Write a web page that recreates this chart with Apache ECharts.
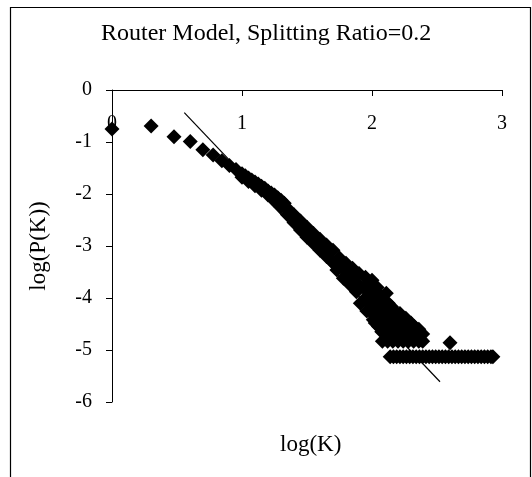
<!DOCTYPE html>
<html>
<head>
<meta charset="utf-8">
<script src="https://cdn.jsdelivr.net/npm/echarts@6/dist/echarts.min.js"></script>
<style>
  html, body { margin: 0; padding: 0; background: #fff; }
  #main-chart { width: 532px; height: 477px; }
</style>
</head>
<body>
<div id="main-chart"></div>
<script>
// tick positions of both axes
const xTicks = [0, 1, 2, 3];
const yTicks = [-6, -5, -4, -3, -2, -1, 0];

// first degrees, each marker on its own
const headLogK = [0, 0.301, 0.477, 0.602, 0.699, 0.778, 0.845, 0.903, 0.954, 1.0];
const headLogP = [-0.75, -0.69, -0.90, -0.99, -1.15, -1.25, -1.36, -1.45, -1.53, -1.61];

// the narrow part of the band
const bandLogK = [1.025, 1.05, 1.075, 1.10, 1.125, 1.15, 1.175, 1.20, 1.225, 1.25, 1.275, 1.30, 1.325];
const bandLogP = [-1.65, -1.69, -1.73, -1.77, -1.81, -1.85, -1.89, -1.94, -1.98, -2.02, -2.07, -2.12, -2.18];
const bandLowLogK = [1.0, 1.05, 1.10, 1.15, 1.20, 1.25, 1.30];
const bandLowLogP = [-1.68, -1.76, -1.84, -1.93, -2.02, -2.13, -2.25];

// upper edge of the wider part
const upperLogK = [1.35, 1.40, 1.45, 1.50, 1.55, 1.60, 1.65, 1.70, 1.75, 1.80, 1.85, 1.90, 1.95, 2.00, 2.04, 2.07, 2.11, 2.15, 2.215, 2.26, 2.30, 2.36, 2.39];
const upperLogP = [-2.28, -2.40, -2.52, -2.64, -2.76, -2.87, -2.98, -3.08, -3.23, -3.33, -3.43, -3.53, -3.60, -3.66, -3.80, -3.97, -3.91, -4.17, -4.30, -4.39, -4.48, -4.60, -4.69];

// lower edge of the wider part
const lowerLogK = [1.35, 1.40, 1.45, 1.50, 1.55, 1.60, 1.65, 1.70, 1.73, 1.78, 1.83, 1.88, 1.91, 1.96, 2.01, 2.05, 2.09];
const lowerLogP = [-2.40, -2.55, -2.69, -2.83, -2.95, -3.08, -3.20, -3.32, -3.46, -3.62, -3.74, -3.88, -4.10, -4.25, -4.42, -4.55, -4.67];

// points inside the spread
const fillLogK = [1.75, 1.80, 1.85, 1.90, 1.95, 1.95, 2.00, 2.00, 2.00, 2.05, 2.05, 2.05, 2.10, 2.10, 2.10, 2.15, 2.15, 2.15, 2.20, 2.20, 2.25, 2.25, 2.30, 2.35,
    1.975, 1.975, 1.975, 2.025, 2.025, 2.025, 2.025, 2.025, 2.075, 2.075, 2.075, 2.075, 2.125, 2.125, 2.125, 2.125,
    2.175, 2.175, 2.175, 2.175, 2.225, 2.225, 2.225, 2.225, 2.275, 2.275, 2.275, 2.325, 2.325, 2.375, 2.375];
const fillLogP = [-3.36, -3.50, -3.62, -3.75, -3.80, -4.00, -3.90, -4.10, -4.25, -4.05, -4.25, -4.40, -4.15, -4.35, -4.55, -4.35, -4.55, -4.70, -4.45, -4.65, -4.53, -4.70, -4.65, -4.75,
    -3.70, -3.90, -4.10, -3.85, -4.00, -4.20, -4.35, -4.48, -4.10, -4.30, -4.50, -4.65, -4.10, -4.25, -4.45, -4.65,
    -4.25, -4.40, -4.60, -4.75, -4.35, -4.50, -4.65, -4.78, -4.45, -4.60, -4.75, -4.55, -4.70, -4.68, -4.80];

// degrees seen twice
const pairLogK = [2.08, 2.12, 2.16, 2.20, 2.24, 2.28, 2.32, 2.36, 2.39, 2.60];
const pairLogP = [-4.83, -4.83, -4.83, -4.83, -4.83, -4.83, -4.83, -4.83, -4.83, -4.86];

// degrees seen once (bottom row)
const tailLogK = [2.14, 2.165, 2.19, 2.215, 2.24, 2.265, 2.29, 2.315, 2.34, 2.365, 2.39, 2.415, 2.44, 2.465, 2.49, 2.515, 2.54, 2.565, 2.59, 2.615, 2.64, 2.665, 2.69, 2.715, 2.74, 2.765, 2.79, 2.815, 2.84, 2.865, 2.89, 2.915, 2.93];
const tailLogP = [-5.13, -5.13, -5.13, -5.13, -5.13, -5.13, -5.13, -5.13, -5.13, -5.13, -5.13, -5.13, -5.13, -5.13, -5.13, -5.13, -5.13, -5.13, -5.13, -5.13, -5.13, -5.13, -5.13, -5.13, -5.13, -5.13, -5.13, -5.13, -5.13, -5.13, -5.13, -5.13, -5.13];

// power-law trend line, ends
const trendLogK = [0.556, 2.523];
const trendLogP = [-0.436, -5.61];

const serif = '"Liberation Serif", "DejaVu Serif", serif';

function pairs(xs, ys) {
    return xs.map((x, i) => [x, ys[i]]);
}

document.addEventListener('DOMContentLoaded', () => {
    const chartDom = document.getElementById('main-chart');
    const chart = echarts.init(chartDom);

    const points = [].concat(
        pairs(headLogK, headLogP),
        pairs(bandLogK, bandLogP),
        pairs(bandLowLogK, bandLowLogP),
        pairs(upperLogK, upperLogP),
        pairs(lowerLogK, lowerLogP),
        pairs(fillLogK, fillLogP),
        pairs(pairLogK, pairLogP),
        pairs(tailLogK, tailLogP)
    );

    const option = {
        animation: false,
        backgroundColor: '#fff',
        textStyle: { fontFamily: serif, color: '#000' },
        title: [
            {
                text: 'Router Model, Splitting Ratio=0.2',
                left: 96, top: 17,
                textStyle: { fontFamily: serif, fontSize: 24, fontWeight: 'normal', color: '#000' }
            },
            {
                text: 'log(K)',
                left: 275, top: 428,
                textStyle: { fontFamily: serif, fontSize: 23, fontWeight: 'normal', color: '#000' }
            }
        ],
        graphic: [{
            type: 'rect',
            shape: { x: 10.5, y: 7.5, width: 520, height: 490 },
            style: { fill: 'none', stroke: '#000', lineWidth: 1.2 },
            silent: true
        }],
        grid: { left: 112, top: 90, width: 390, height: 312 },
        xAxis: {
            type: 'value',
            position: 'top',
            min: xTicks[0], max: xTicks[xTicks.length - 1], interval: 1,
            z: 5,
            axisLine: { show: true, onZero: false, lineStyle: { color: '#000', width: 1 } },
            axisTick: { show: true, inside: true, length: 6, lineStyle: { color: '#000' } },
            axisLabel: { inside: true, fontFamily: serif, fontSize: 20, color: '#000', margin: 24 },
            splitLine: { show: false }
        },
        yAxis: {
            type: 'value',
            min: yTicks[0], max: yTicks[yTicks.length - 1], interval: 1,
            name: 'log(P(K))',
            nameLocation: 'middle',
            nameGap: 62,
            nameTextStyle: { fontFamily: serif, fontSize: 23, color: '#000' },
            axisLine: { show: true, onZero: false, lineStyle: { color: '#000', width: 1 } },
            axisTick: { show: true, length: 6, lineStyle: { color: '#000' } },
            axisLabel: { fontFamily: serif, fontSize: 20, color: '#000', margin: 20 },
            splitLine: { show: false }
        },
        series: [
            {
                type: 'scatter',
                data: points,
                symbol: 'diamond',
                symbolSize: 15,
                itemStyle: { color: '#000', opacity: 1 },
                z: 2
            },
            {
                type: 'line',
                data: pairs(trendLogK, trendLogP),
                showSymbol: false,
                symbol: 'none',
                lineStyle: { color: '#000', width: 1.2 },
                z: 3
            }
        ]
    };
    chart.setOption(option);
});
</script>
</body>
</html>
